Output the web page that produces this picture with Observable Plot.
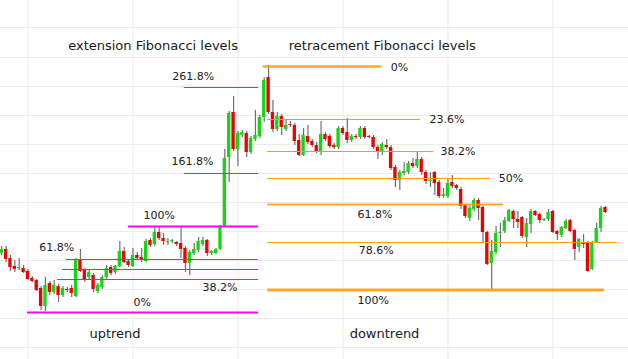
<!DOCTYPE html>
<html><head><meta charset="utf-8">
<script src="https://cdn.jsdelivr.net/npm/d3@7"></script>
<script src="https://cdn.jsdelivr.net/npm/@observablehq/plot@0.6"></script>
<style>body{margin:0;background:#fff}</style>
</head><body><div id="chart"></div>
<script>
// Candle OHLC values (one candle per bar, index 0..138), price units of the chart
const open  = [94,98,89,81,79,79,76,69,67,59,41,64,55,61,52,58,59,51,88,77,70,72,56,60,70,80,75,81,96,86,81,92,90,86,107,103,115,109,105,106,105,104,99,84,94,97,103,107,94,94,98,121,190,235,198,212,214,195,208,211,230,270,235,218,231,218,223,222,207,192,211,206,202,196,213,211,202,200,219,215,207,211,210,219,211,210,200,195,202,200,180,167,174,175,184,181,188,175,166,175,165,151,151,165,162,158,142,129,138,147,140,115,84,95,114,116,126,136,128,130,110,123,136,133,127,128,136,116,112,119,127,117,100,105,105,78,105,119,140];
const high  = [101,101,92,87,89,82,78,71,68,61,70,66,67,63,61,60,62,89,98,79,77,74,64,72,82,82,82,106,100,88,99,95,99,108,109,120,120,114,109,108,106,120,101,97,104,110,110,108,97,99,122,198,236,251,216,217,216,211,237,232,270,282,247,235,233,227,226,224,213,219,222,208,205,226,215,213,204,221,221,229,213,213,221,221,212,212,202,205,208,202,182,177,185,186,189,195,190,177,175,176,167,159,169,172,163,160,143,141,149,149,141,116,107,121,124,130,138,137,136,131,129,138,137,134,129,138,137,117,121,128,128,118,109,113,106,106,124,141,141];
const low   = [92,85,76,75,77,74,67,65,56,37,36,52,53,45,50,55,50,50,75,65,67,55,54,58,68,72,73,80,84,80,80,87,85,85,100,101,107,102,102,104,101,89,75,72,92,95,101,91,92,93,97,120,165,196,181,210,190,193,206,209,225,233,215,216,212,216,220,202,191,191,203,200,194,192,206,199,198,198,212,204,205,208,208,208,209,198,188,192,198,177,160,157,172,173,179,179,172,163,160,152,149,149,149,159,157,138,129,126,136,127,105,82,58,93,100,114,125,119,119,109,100,114,131,124,126,126,114,107,110,118,115,87,95,99,75,77,104,115,134];
const close = [98,88,80,78,80,75,68,66,57,41,62,55,62,52,59,57,54,88,76,68,75,58,62,70,79,74,81,96,85,82,92,89,87,106,102,115,109,106,106,107,103,98,84,95,98,106,107,94,96,98,121,189,234,198,214,215,195,209,212,230,267,235,218,231,220,222,222,206,192,212,205,202,196,213,208,201,200,219,214,207,211,210,219,210,210,200,195,203,200,179,167,175,176,184,181,188,175,166,167,164,151,153,164,161,159,141,131,139,147,139,115,83,96,114,115,127,137,128,125,111,124,136,132,127,128,135,115,113,120,126,116,98,108,103,76,105,119,139,135];

// Fibonacci extension levels (uptrend swing)
const extLabels = ["0%","38.2%","50%","61.8%","100%","161.8%","261.8%"];
const extPrices = [35, 68, 78, 88, 121, 174, 260];
const extFrom   = [5.9, 12.75, 13.9, 14.8, 29.0, 41.8, 41.8];
const extTo     = [58.7, 58.7, 58.7, 58.7, 58.7, 58.7, 58.7];

// Fibonacci retracement levels (downtrend swing)
const retLabels = ["0%","23.6%","38.2%","50%","61.8%","78.6%","100%"];
const retPrices = [281, 228, 196, 169, 143, 105, 57.5];
const retFrom   = [59.8, 60.8, 60.8, 60.8, 60.8, 60.8, 60.8];
const retTo     = [86.8, 95.7, 98.7, 111.7, 114.7, 140.8, 137.8];

// Level label anchors (bar index, price)
const extLabelX = [30.1, 45.9, null, 8.6, 32.4, 38.8, 39.0];
const extLabelY = [45, 60, null, 100, 132, 186, 271];
const retLabelX = [88.9, 97.8, 100.3, 113.6, 81.3, 81.6, 81.3];
const retLabelY = [280, 228, 196, 169, 133, 97, 47];

// Titles
const titles  = ["extension Fibonacci levels", "retracement Fibonacci levels", "uptrend", "downtrend"];
const titleX  = [34.6, 87.0, 25.9, 87.5];
const titleY  = [301.5, 302, 14, 14];

// Background grid ticks
const gridBars   = [6, 30, 54, 78, 102, 126];
const gridPrices = [0, 29, 58, 87, 116, 145, 174, 203, 232, 261, 290, 320];

const candles = open.map((o, i) => ({i, o, h: high[i], l: low[i], c: close[i]}));
const ext = extLabels.map((label, j) => ({label, price: extPrices[j], from: extFrom[j], to: extTo[j], lx: extLabelX[j], ly: extLabelY[j]}));
const ret = retLabels.map((label, j) => ({label, price: retPrices[j], from: retFrom[j], to: retTo[j], lx: retLabelX[j], ly: retLabelY[j]}));
const tt = titles.map((t, j) => ({t, x: titleX[j], y: titleY[j]}));

const GREEN = "#12d812", RED = "#f00000", MAGENTA = "#ff00ff", ORANGE = "#ff9a00";
const thickExt = new Set(["0%", "100%"]);
const retWidth = {"0%": 2.5, "61.8%": 2, "100%": 3};

const chart = Plot.plot({
  width: 628,
  height: 359,
  margin: 0,
  x: {domain: [-0.274, 143.27], axis: null},
  y: {domain: [-12, 347], axis: null},
  style: {fontFamily: "DejaVu Sans, sans-serif", background: "#fff"},
  marks: [
    Plot.ruleX(gridBars, {stroke: "#ebebeb", strokeWidth: 1}),
    Plot.ruleY(gridPrices, {stroke: "#ebebeb", strokeWidth: 1}),
    Plot.ruleX(candles, {x: "i", y1: "l", y2: "h", stroke: "#6f6f6f", strokeWidth: 1.2}),
    Plot.rect(candles, {x1: d => d.i - 0.38, x2: d => d.i + 0.38, y1: "o", y2: "c",
      fill: d => d.c >= d.o ? GREEN : RED}),
    Plot.ruleY(ext, {y: "price", x1: "from", x2: "to", stroke: MAGENTA,
      strokeWidth: d => thickExt.has(d.label) ? 2.2 : 1}),
    Plot.ruleY(ret, {y: "price", x1: "from", x2: "to", stroke: ORANGE,
      strokeOpacity: d => retWidth[d.label] ? 0.85 : 1,
      strokeWidth: d => retWidth[d.label] || 1}),
    Plot.text(ext.filter(d => d.lx != null), {x: "lx", y: "ly", text: "label", textAnchor: "start", fontSize: 11, fill: "#1a1a1a"}),
    Plot.text(ret, {x: "lx", y: "ly", text: "label", textAnchor: "start", fontSize: 11, fill: "#1a1a1a"}),
    Plot.text(tt, {x: "x", y: "y", text: "t", textAnchor: "middle", fontSize: 13, fill: "#1a1a1a"})
  ]
});
document.getElementById("chart").appendChild(chart);
</script>
</body></html>
